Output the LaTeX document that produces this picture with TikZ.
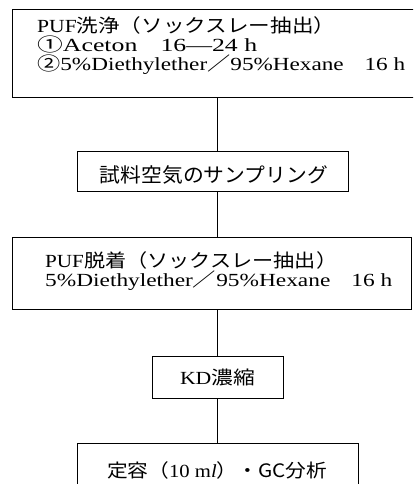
\documentclass[tikz,border=0pt]{standalone}
\usepackage{fontspec}
\usepackage{graphicx}
\setmainfont{Liberation Serif}
\newfontfamily\jp{Noto Sans CJK JP}
\newcommand\fw[2]{\resizebox{#1pt}{\height}{#2}}
\tikzset{
  boxst/.style={draw, line width=0.9pt, inner sep=0pt},
  txt/.style={inner sep=0pt, font=\fontsize{18.5}{20}\selectfont},
  conn/.style={line width=0.9pt}
}
\begin{document}
\begin{tikzpicture}[x=1pt,y=1pt]
\useasboundingbox (0,0) rectangle (413,-484);
\clip (0,0) rectangle (413,-484);
% boxes
\node[boxst, minimum width=410pt, minimum height=88pt] (b1) at (217,-53) {};
\node[boxst, minimum width=271pt, minimum height=40pt] (b2) at (212.5,-171) {};
\node[boxst, minimum width=399pt, minimum height=72pt] (b3) at (211.5,-273) {};
\node[boxst, minimum width=131pt, minimum height=42pt] (b4) at (217.5,-377) {};
\node[boxst, minimum width=281pt, minimum height=70pt] (b5) at (217.5,-478) {};
% texts
\node[txt, anchor=base west] (t11) at (37,-33) {\fw{298}{PUF{\jp 洗浄（ソックスレー抽出）}}};
\node[txt, anchor=base west] (t12) at (37,-52) {\fw{220}{{\jp ①}Aceton\hspace{0.9em}16—24 h}};
\node[txt, anchor=base west] (t13) at (37,-71) {\fw{368}{{\jp ②}5\%Diethylether{\jp ／}95\%Hexane\hspace{0.9em}16 h}};
\node[txt, anchor=base, font=\fontsize{20}{22}\selectfont] (t2) at (214,-182) {\fw{228}{{\jp 試料空気のサンプリング}}};
\node[txt, anchor=base west] (t31) at (45,-267) {\fw{292}{PUF{\jp 脱着（ソックスレー抽出）}}};
\node[txt, anchor=base west] (t32) at (45,-286) {\fw{347}{5\%Diethylether{\jp ／}95\%Hexane\hspace{0.9em}16 h}};
\node[txt, anchor=base] (t4) at (217.5,-384) {\fw{75}{KD{\jp 濃縮}}};
\node[txt, anchor=base] (t5) at (217,-477) {\fw{220}{{\jp 定容（}10 m\textit{l}{\jp ）・GC分析}}};
% connectors
\draw[conn] (b1.south) -- (b1.south |- b2.north);
\draw[conn] (b1.south |- b2.south) -- (b1.south |- b3.north);
\draw[conn] (b1.south |- b3.south) -- (b1.south |- b4.north);
\draw[conn] (b1.south |- b4.south) -- (b1.south |- b5.north);
\end{tikzpicture}
\end{document}
